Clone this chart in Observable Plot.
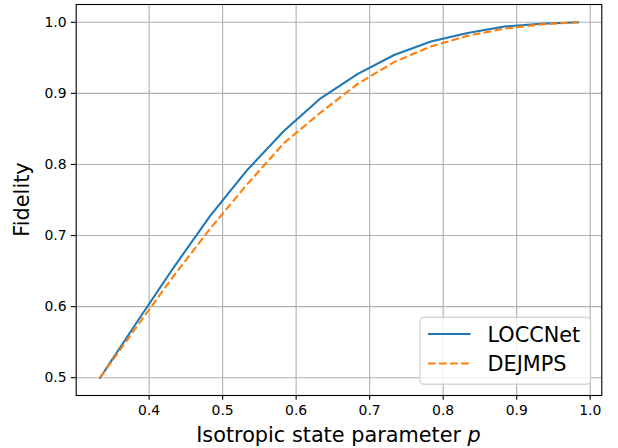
<!DOCTYPE html>
<html>
<head>
<meta charset="utf-8">
<script src="https://cdn.jsdelivr.net/npm/d3@7"></script>
<script src="https://cdn.jsdelivr.net/npm/@observablehq/plot@0.6"></script>
<style>
  html, body { margin: 0; padding: 0; background: white; }
  #chart { width: 618px; height: 448px; position: relative; }
</style>
</head>
<body>
<div id="chart"></div>
<script>
// ---- data ----
const pValues = [0.3333, 0.3833, 0.4333, 0.4833, 0.5333, 0.5833, 0.6333, 0.6833, 0.7333, 0.7833, 0.8333, 0.8833, 0.9333, 0.9833];
const loccnet = [0.500, 0.578, 0.655, 0.728, 0.792, 0.847, 0.893, 0.927, 0.954, 0.973, 0.985, 0.994, 0.998, 1.000];
const dejmps  = [0.500, 0.572, 0.643, 0.710, 0.772, 0.830, 0.873, 0.913, 0.944, 0.966, 0.981, 0.991, 0.997, 1.000];
const seriesNames = ["LOCCNet", "DEJMPS"];
const seriesColors = ["#1f77b4", "#ff7f0e"];
const xTicks = [0.4, 0.5, 0.6, 0.7, 0.8, 0.9, 1.0];
const yTicks = [0.5, 0.6, 0.7, 0.8, 0.9, 1.0];
const xLabel = "Isotropic state parameter ";
const xLabelItalic = "p";
const yLabel = "Fidelity";

// ---- build tables ----
const rows1 = pValues.map((p, i) => ({p, f: loccnet[i], s: seriesNames[0]}));
const rows2 = pValues.map((p, i) => ({p, f: dejmps[i], s: seriesNames[1]}));

const xPad = (d3.max(pValues) - d3.min(pValues)) * 0.05;
const allY = loccnet.concat(dejmps);
const yPad = (d3.max(allY) - d3.min(allY)) * 0.05;

const fmt = d3.format(".1f");
const tick = 4.86;

const svg = Plot.plot({
  width: 618,
  height: 448,
  marginLeft: 75.7,
  marginRight: 16.7,
  marginTop: 4,
  marginBottom: 53,
  style: {fontFamily: "DejaVu Sans", fontSize: "13.9px", color: "black", background: "white"},
  x: {domain: [d3.min(pValues) - xPad, d3.max(pValues) + xPad]},
  y: {domain: [d3.min(allY) - yPad, d3.max(allY) + yPad]},
  marks: [
    Plot.gridX(xTicks, {stroke: "#b0b0b0", strokeOpacity: 1, strokeWidth: 1.11}),
    Plot.gridY(yTicks, {stroke: "#b0b0b0", strokeOpacity: 1, strokeWidth: 1.11}),
    Plot.line(rows1, {x: "p", y: "f", stroke: seriesColors[0], strokeWidth: 2.08, strokeLinecap: "square", strokeLinejoin: "round"}),
    Plot.line(rows2, {x: "p", y: "f", stroke: seriesColors[1], strokeWidth: 2.08, strokeDasharray: "7.71,3.33", strokeLinecap: "butt"}),
    Plot.frame({stroke: "black", strokeWidth: 1.11}),
    Plot.axisX(xTicks, {tickSize: tick, tickPadding: tick, tickFormat: fmt, label: null, strokeWidth: 1.11, fontSize: 13.9}),
    Plot.axisY(yTicks, {tickSize: tick, tickPadding: tick, tickFormat: fmt, label: null, strokeWidth: 1.11, fontSize: 13.9})
  ]
});

document.getElementById("chart").appendChild(svg);

const s = d3.select(svg);
// x axis label with italic p
const xl = s.append("text")
  .attr("x", (75.7 + 601.3) / 2)
  .attr("y", 441.5)
  .attr("text-anchor", "middle")
  .attr("font-family", "DejaVu Sans")
  .attr("font-size", "20.8px")
  .attr("fill", "black");
xl.append("tspan").text(xLabel);
xl.append("tspan").attr("font-style", "italic").text(xLabelItalic);

// y axis label
s.append("text")
  .attr("transform", `translate(28.5,${(4 + 395) / 2}) rotate(-90)`)
  .attr("text-anchor", "middle")
  .attr("font-family", "DejaVu Sans")
  .attr("font-size", "20.8px")
  .attr("fill", "black")
  .text(yLabel);

// legend (lower right, inside axes)
const lg = s.append("g").attr("text-anchor", "start");
lg.append("rect")
  .attr("x", 420).attr("y", 317.3).attr("width", 170.6).attr("height", 66.9)
  .attr("rx", 4.2).attr("ry", 4.2)
  .attr("fill", "white").attr("fill-opacity", 0.8)
  .attr("stroke", "#cccccc").attr("stroke-opacity", 0.8).attr("stroke-width", 1.39);
const rowY = [334, 363.5];
seriesNames.forEach((name, i) => {
  const ln = lg.append("line")
    .attr("x1", 428).attr("x2", 470.5)
    .attr("y1", rowY[i]).attr("y2", rowY[i])
    .attr("stroke", seriesColors[i]).attr("stroke-width", 2.08);
  if (i === 1) ln.attr("stroke-dasharray", "7.71,3.33");
  lg.append("text")
    .attr("x", 487.5).attr("y", rowY[i] + 7.8)
    .attr("text-anchor", "start")
    .attr("font-family", "DejaVu Sans").attr("font-size", "20.8px").attr("fill", "black")
    .text(name);
});
</script>
</body>
</html>
